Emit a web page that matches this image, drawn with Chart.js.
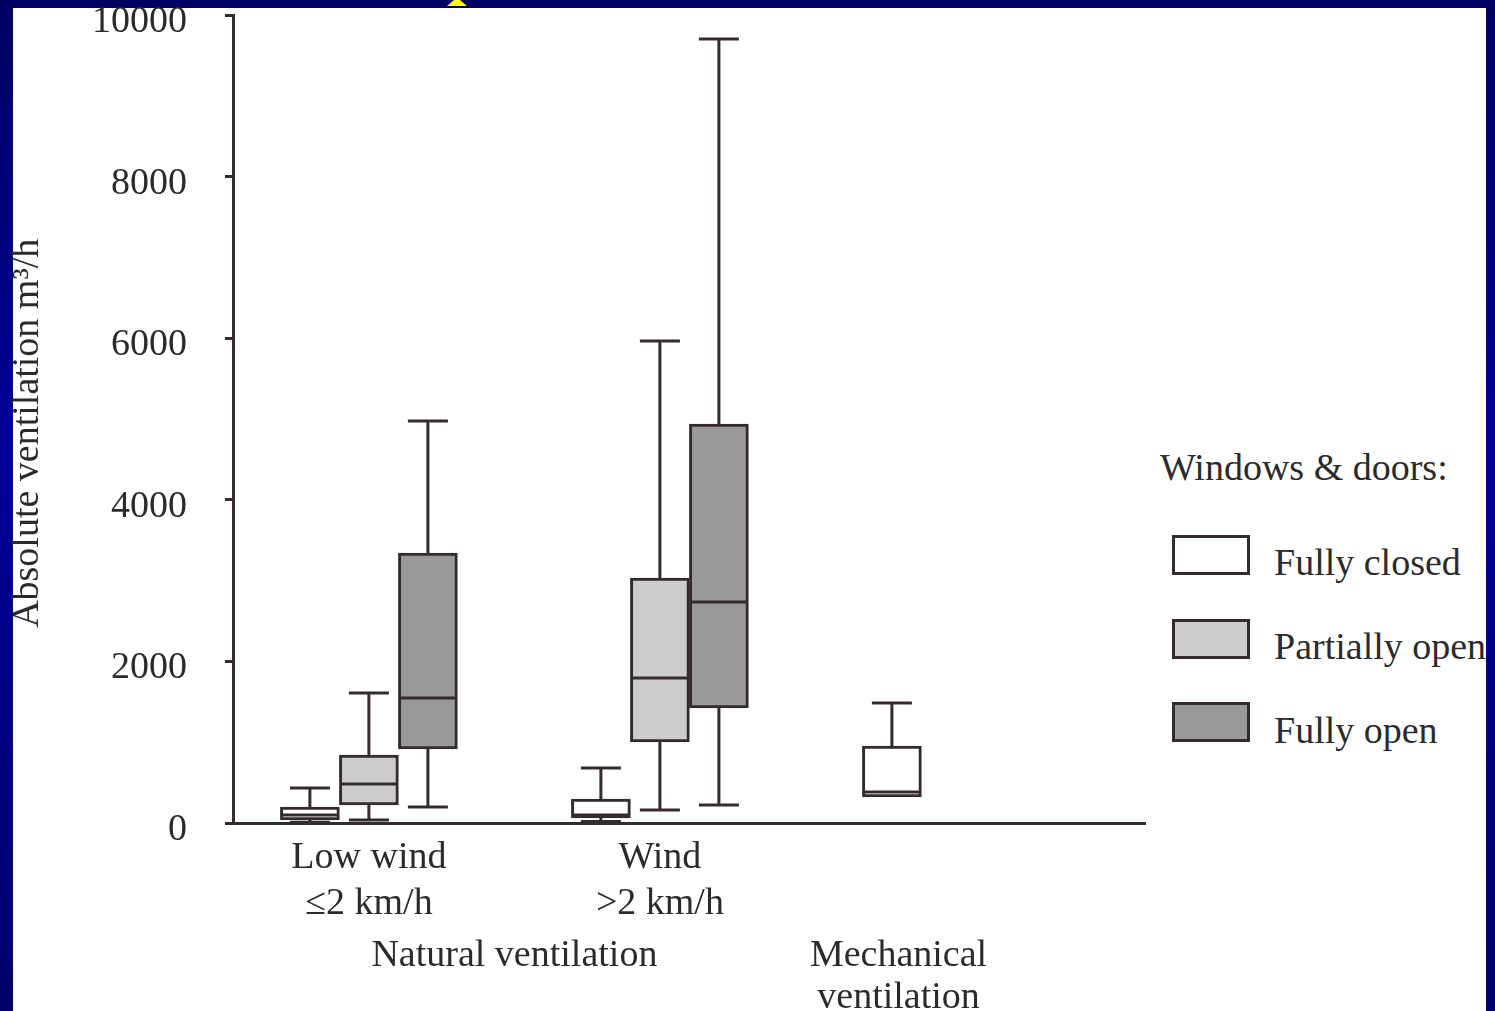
<!DOCTYPE html>
<html>
<head>
<meta charset="utf-8">
<title>Absolute ventilation</title>
<script src="https://cdn.jsdelivr.net/npm/chart.js@4.4.1/dist/chart.umd.min.js"></script>
<style>
html, body { margin: 0; padding: 0; }
body {
    width: 1495px; height: 1011px; overflow: hidden; position: relative;
    background: linear-gradient(to bottom, #000062 0%, #000098 45%, #00006a 100%);
    font-family: 'Liberation Serif', 'Times New Roman', serif;
}
#panel { position: absolute; left: 13px; top: 8px; width: 1473px; height: 1003px; background: #fff; overflow: hidden; }
#chart { position: absolute; left: 0; top: -15px; z-index: 2; }
#peak { position: absolute; left: 447px; top: 0; width: 20px; height: 6px; background: #ffff00;
        clip-path: polygon(35% 0, 65% 0, 100% 100%, 0 100%); }
.ltxt { position: absolute; font-size: 38px; line-height: 44px; color: #2b2b2b; white-space: nowrap; }
.lbox { position: absolute; width: 78px; height: 40px; box-sizing: border-box; border: 3px solid #342c2c; }
</style>
</head>
<body>
<div id="peak"></div>
<div id="panel"><div id="legend"></div></div>
<canvas id="chart" width="1495" height="1031"></canvas>
<script>
const groupTicks = [0, 1];
const groupLabels = [['Low wind', '≤2 km/h'], ['Wind', '>2 km/h']];
const sectionTicks = [0.5, 1.82];
const sectionLabels = [['Natural ventilation'], ['Mechanical', 'ventilation']];
const yTicks = [0, 2000, 4000, 6000, 8000, 10000];
const yTitle = 'Absolute ventilation m³/h';
const legendTitle = 'Windows & doors:';
const seriesNames = ['Fully closed', 'Partially open', 'Fully open'];

// [min, q1, median, q3, max] per group (low wind, wind, mechanical); null = no box
const fullyClosed = [[10, 37, 99, 198, 433], [20, 62, 99, 297, 681], [322, 322, 384, 953, 1485]];
const partiallyOpen = [[37, 223, 483, 842, 1609], [161, 1002, 1795, 3032, 5965], null];
const fullyOpen = [[198, 916, 1547, 3342, 4975], [223, 1423, 2735, 4938, 9703], null];

const fills = ['#ffffff', '#cccccc', '#999999'];
const LINE = '#342c2c';
const TEXT = '#2b2b2b';
const FONT = "'Liberation Serif', 'Times New Roman', serif";

const $ = id => document.getElementById(id);

function makeDataset(name, stats, i) {
    const kept = stats.map((s, g) => s ? { g, s } : null).filter(Boolean);
    return {
        label: name,
        data: kept.map(k => ({ x: k.g, y: [k.s[1], k.s[3]] })),
        stats: kept.map(k => k.s),
        backgroundColor: fills[i],
        borderColor: LINE,
        borderWidth: 3,
        borderSkipped: false,
        barThickness: 59
    };
}

const whiskers = {
    id: 'whiskers',
    afterDatasetsDraw(chart) {
        const { ctx } = chart;
        const y = chart.scales.y;
        const line = (x1, y1, x2, y2) => { ctx.beginPath(); ctx.moveTo(x1, y1); ctx.lineTo(x2, y2); ctx.stroke(); };
        ctx.save();
        ctx.strokeStyle = LINE;
        ctx.lineWidth = 3;
        chart.data.datasets.forEach((ds, di) => {
            chart.getDatasetMeta(di).data.forEach((bar, k) => {
                const [min, , med, , max] = ds.stats[k];
                const p = bar.getProps(['x', 'y', 'base', 'width'], true);
                const half = p.width / 2, cap = 20;
                const yMed = y.getPixelForValue(med);
                line(p.x - half + 2, yMed, p.x + half - 2, yMed);
                const top = Math.min(p.y, p.base), bot = Math.max(p.y, p.base);
                const yMax = y.getPixelForValue(max), yMin = y.getPixelForValue(min);
                if (yMax < top - 1) { line(p.x, top, p.x, yMax); line(p.x - cap, yMax, p.x + cap, yMax); }
                if (yMin > bot + 1) { line(p.x, bot, p.x, yMin); line(p.x - cap, yMin, p.x + cap, yMin); }
            });
        });
        ctx.restore();
    }
};

function noPad(s) { s.paddingTop = 0; s.paddingBottom = 0; s.paddingLeft = 0; s.paddingRight = 0; }

new Chart($('chart').getContext('2d'), {
    type: 'bar',
    data: {
        datasets: [
            makeDataset(seriesNames[0], fullyClosed, 0),
            makeDataset(seriesNames[1], partiallyOpen, 1),
            makeDataset(seriesNames[2], fullyOpen, 2)
        ]
    },
    plugins: [whiskers],
    options: {
        responsive: false,
        animation: false,
        layout: { padding: { top: 30, right: 350, bottom: 0, left: 0 } },
        plugins: { legend: { display: false }, tooltip: { enabled: false } },
        scales: {
            x: {
                type: 'linear', position: 'bottom', weight: 0, offset: false,
                min: -0.467, max: 2.667,
                afterBuildTicks: s => { s.ticks = groupTicks.map(v => ({ value: v })); },
                afterFit: s => { noPad(s); s.height = 101; },
                grid: { display: false, drawTicks: false },
                border: { display: true, color: LINE, width: 3 },
                ticks: {
                    padding: 12, maxRotation: 0, minRotation: 0, autoSkip: false,
                    color: TEXT, font: { family: FONT, size: 38, lineHeight: 1.21 },
                    callback: (v, i) => groupLabels[i]
                }
            },
            x2: {
                type: 'linear', position: 'bottom', weight: 1, offset: false,
                min: -0.467, max: 2.667,
                afterBuildTicks: s => { s.ticks = sectionTicks.map(v => ({ value: v })); },
                afterFit: s => { noPad(s); s.height = 92; },
                grid: { display: false, drawTicks: false },
                border: { display: false },
                ticks: {
                    padding: 11, maxRotation: 0, minRotation: 0, autoSkip: false,
                    color: TEXT, font: { family: FONT, size: 38, lineHeight: 1.105 },
                    callback: (v, i) => sectionLabels[i]
                }
            },
            y: {
                min: 0, max: 10000,
                afterBuildTicks: s => { s.ticks = yTicks.map(v => ({ value: v })); },
                afterFit: s => { noPad(s); s.width = 233; },
                grid: { display: true, drawOnChartArea: false, drawTicks: true, tickLength: 8, color: LINE, lineWidth: 3 },
                border: { display: true, color: LINE, width: 3 },
                ticks: {
                    padding: 38, labelOffset: 7, color: TEXT,
                    font: { family: FONT, size: 38 },
                    callback: v => String(v)
                },
                title: {
                    display: true, text: yTitle + '\u00a0\u00a0\u00a0',
                    color: TEXT, font: { family: FONT, size: 38 },
                    padding: { top: 5, bottom: 0 }
                }
            }
        }
    }
});

// legend, placed in panel coordinates (panel starts at 13, 8)
function buildLegend() {
    const lg = $('legend');
    const t = document.createElement('div');
    t.className = 'ltxt';
    t.textContent = legendTitle;
    t.style.left = (1160 - 13) + 'px';
    t.style.top = (445 - 8) + 'px';
    lg.appendChild(t);
    seriesNames.forEach((name, i) => {
        const b = document.createElement('div');
        b.className = 'lbox';
        b.style.background = fills[i];
        b.style.left = (1172 - 13) + 'px';
        b.style.top = (535 + i * 83.5 - 8) + 'px';
        lg.appendChild(b);
        const s = document.createElement('div');
        s.className = 'ltxt';
        s.textContent = name;
        s.style.left = (1274 - 13) + 'px';
        s.style.top = (539.5 + i * 84 - 8) + 'px';
        lg.appendChild(s);
    });
}
buildLegend();
</script>
</body>
</html>
